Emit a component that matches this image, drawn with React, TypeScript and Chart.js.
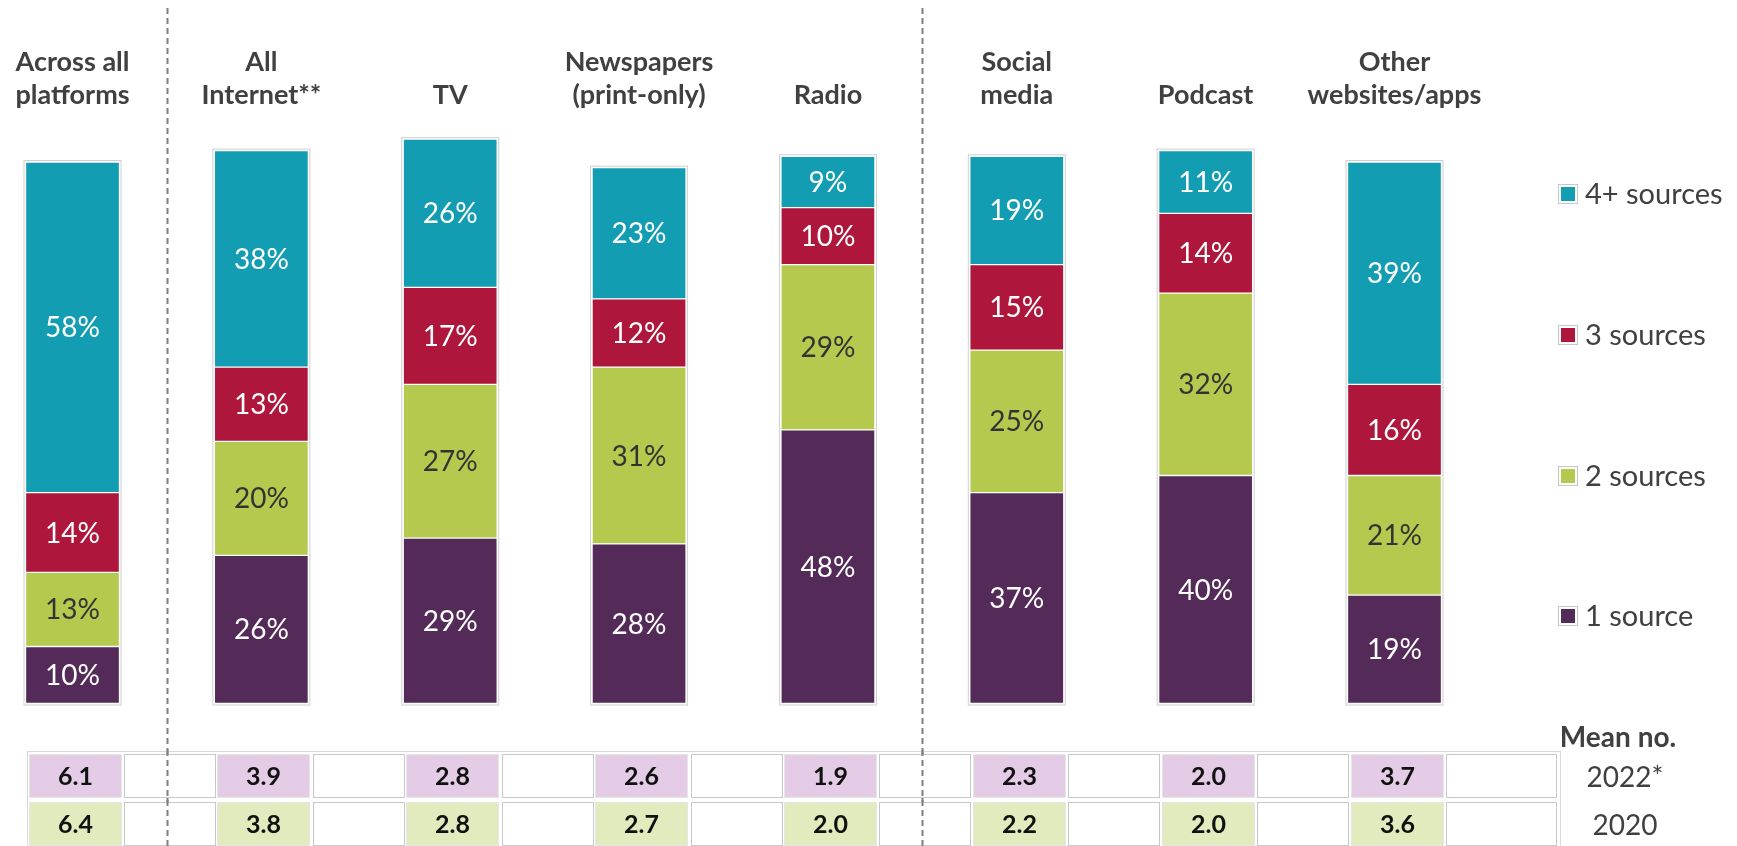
import React, { useEffect, useRef } from "react";
import { Chart, registerables } from "chart.js";

Chart.register(...registerables);

const categories: string[][] = [
  ["Across all", "platforms"],
  ["All", "Internet**"],
  ["", "TV"],
  ["Newspapers", "(print-only)"],
  ["", "Radio"],
  ["Social", "media"],
  ["", "Podcast"],
  ["Other", "websites/apps"],
];

const oneSource = [10, 26, 29, 28, 48, 37, 40, 19];
const twoSources = [13, 20, 27, 31, 29, 25, 32, 21];
const threeSources = [14, 13, 17, 12, 10, 15, 14, 16];
const fourPlusSources = [58, 38, 26, 23, 9, 19, 11, 39];

const seriesNames = ["1 source", "2 sources", "3 sources", "4+ sources"];
const seriesColors = ["#532A58", "#B6C94F", "#AE163B", "#129DB2"];
const labelColors = ["#FFFFFF", "#333333", "#FFFFFF", "#FFFFFF"];

const mean2022 = ["6.1", "3.9", "2.8", "2.6", "1.9", "2.3", "2.0", "3.7"];
const mean2020 = ["6.4", "3.8", "2.8", "2.7", "2.0", "2.2", "2.0", "3.6"];
const yearLabels = ["2022*", "2020"];
const meanTitle = "Mean no.";
const dividerAfter = [0, 4];

const FONT = "Lato, 'Open Sans', sans-serif";

const overlayPlugin = {
  id: "overlay",
  afterDatasetsDraw(chart: any) {
    const ctx = chart.ctx;
    const xs = chart.scales.x;
    const n = categories.length;
    const metas = [0, 1, 2, 3].map((d) => chart.getDatasetMeta(d));
    ctx.save();

    // outer bar outlines
    for (let i = 0; i < n; i++) {
      const bottomEl: any = metas[0].data[i];
      const topEl: any = metas[3].data[i];
      const w = bottomEl.width;
      const left = bottomEl.x - w / 2;
      ctx.strokeStyle = "#CFCFCF";
      ctx.lineWidth = 1;
      ctx.strokeRect(left - 1.5, topEl.y - 1.5, w + 3, bottomEl.base - topEl.y + 3);
    }

    // data labels
    ctx.textAlign = "center";
    ctx.textBaseline = "middle";
    ctx.font = `28px ${FONT}`;
    metas.forEach((meta: any, d: number) => {
      meta.data.forEach((el: any, i: number) => {
        const v = chart.data.datasets[d].data[i];
        const cy = (el.y + el.base) / 2;
        ctx.fillStyle = labelColors[d];
        ctx.fillText(`${v}%`, el.x, cy + 1);
      });
    });

    // category labels
    ctx.font = `bold 27px ${FONT}`;
    ctx.fillStyle = "#404040";
    for (let i = 0; i < n; i++) {
      const cx = xs.getPixelForValue(i);
      const [l1, l2] = categories[i];
      if (l1) ctx.fillText(l1, cx, 62);
      ctx.fillText(l2, cx, 95);
    }

    // dashed dividers
    ctx.strokeStyle = "#7F7F7F";
    ctx.lineWidth = 2;
    ctx.setLineDash([6, 4]);
    dividerAfter.forEach((i) => {
      const x = Math.round((xs.getPixelForValue(i) + xs.getPixelForValue(i + 1)) / 2) + 0.5;
      ctx.beginPath();
      ctx.moveTo(x, 8);
      ctx.lineTo(x, 846);
      ctx.stroke();
    });
    ctx.setLineDash([]);

    // legend
    const legendY = [616, 476, 335, 194];
    ctx.textAlign = "left";
    ctx.font = `29px ${FONT}`;
    for (let d = 0; d < 4; d++) {
      const y = legendY[d];
      ctx.fillStyle = "#FFFFFF";
      ctx.fillRect(1558, y - 10, 20, 20);
      ctx.strokeStyle = "#C8C8C8";
      ctx.lineWidth = 1;
      ctx.strokeRect(1558.5, y - 9.5, 19, 19);
      ctx.fillStyle = seriesColors[d];
      ctx.fillRect(1561, y - 7, 14, 14);
      ctx.fillStyle = "#404040";
      ctx.fillText(seriesNames[d], 1585, y + 1);
    }

    // table
    const rows = [
      { vals: mean2022, color: "#E4CCE7", top: 754, h: 44 },
      { vals: mean2020, color: "#E2EBBD", top: 802, h: 44 },
    ];
    ctx.strokeStyle = "#D9D9D9";
    ctx.lineWidth = 1;
    ctx.strokeRect(27.5, 751.5, 1533, 100);
    rows.forEach((r) => {
      for (let i = 0; i < n; i++) {
        const cx = xs.getPixelForValue(i);
        const cl = Math.round(cx - 44);
        ctx.fillStyle = r.color;
        ctx.fillRect(cl, r.top, 93, r.h);
        ctx.strokeStyle = "#E6E6E6";
        ctx.strokeRect(cl + 0.5, r.top + 0.5, 92, r.h - 1);
        const wl = Math.round(cx + 51.5);
        const ww = i === n - 1 ? 1557 - wl : 92;
        ctx.fillStyle = "#FFFFFF";
        ctx.fillRect(wl, r.top, ww, r.h);
        ctx.strokeStyle = "#C8C8C8";
        ctx.strokeRect(wl + 0.5, r.top + 0.5, ww - 1, r.h - 1);
        ctx.fillStyle = "#111111";
        ctx.font = `bold 25px ${FONT}`;
        ctx.textAlign = "center";
        ctx.fillText(r.vals[i], cl + 46.5, r.top + r.h / 2 + 1);
      }
    });

    // redraw dashed dividers over the table cells
    ctx.strokeStyle = "#7F7F7F";
    ctx.lineWidth = 2;
    ctx.setLineDash([6, 4]);
    dividerAfter.forEach((i) => {
      const x = Math.round((xs.getPixelForValue(i) + xs.getPixelForValue(i + 1)) / 2) + 0.5;
      ctx.beginPath();
      ctx.moveTo(x, 750);
      ctx.lineTo(x, 846);
      ctx.stroke();
    });
    ctx.setLineDash([]);

    ctx.textAlign = "center";
    ctx.fillStyle = "#404040";
    ctx.font = `bold 28px ${FONT}`;
    ctx.fillText(meanTitle, 1618, 738);
    ctx.font = `28px ${FONT}`;
    ctx.fillText(yearLabels[0], 1625, 778);
    ctx.fillText(yearLabels[1], 1625, 826);

    ctx.restore();
  },
};

export default function App() {
  const ref = useRef<HTMLCanvasElement>(null);

  useEffect(() => {
    document.body.style.margin = "0";
    let chart: Chart | null = null;
    let cancelled = false;
    const build = () => {
      if (cancelled || !ref.current) return;
      const values = [oneSource, twoSources, threeSources, fourPlusSources];
      chart = new Chart(ref.current, {
        type: "bar",
        data: {
          labels: categories.map((c) => c.filter(Boolean).join(" ")),
          datasets: values.map((vals, d) => ({
            label: seriesNames[d],
            data: vals,
            backgroundColor: seriesColors[d],
            borderColor: "#FFFFFF",
            borderWidth: 1,
            borderSkipped: false,
            barThickness: 94,
            clip: false,
          })) as any,
        },
        options: {
          animation: false,
          responsive: false,
          maintainAspectRatio: false,
          layout: { padding: { left: 72.5, right: 342.5, top: 133.5, bottom: 142.5 } },
          plugins: { legend: { display: false }, tooltip: { enabled: false } },
          scales: {
            x: { type: "category", stacked: true, offset: false, display: false },
            y: { stacked: true, min: 0, max: 100, display: false },
          },
        },
        plugins: [overlayPlugin],
      });
    };
    const fontsReady = (document as any).fonts
      ? Promise.all([
          (document as any).fonts.load(`28px Lato`),
          (document as any).fonts.load(`bold 28px Lato`),
        ]).catch(() => null)
      : Promise.resolve();
    fontsReady.then(build);
    return () => {
      cancelled = true;
      if (chart) chart.destroy();
    };
  }, []);

  return (
    <div style={{ width: 1737, height: 846, background: "#FFFFFF" }}>
      <canvas ref={ref} width={1737} height={846} style={{ display: "block", width: 1737, height: 846 }} />
    </div>
  );
}
